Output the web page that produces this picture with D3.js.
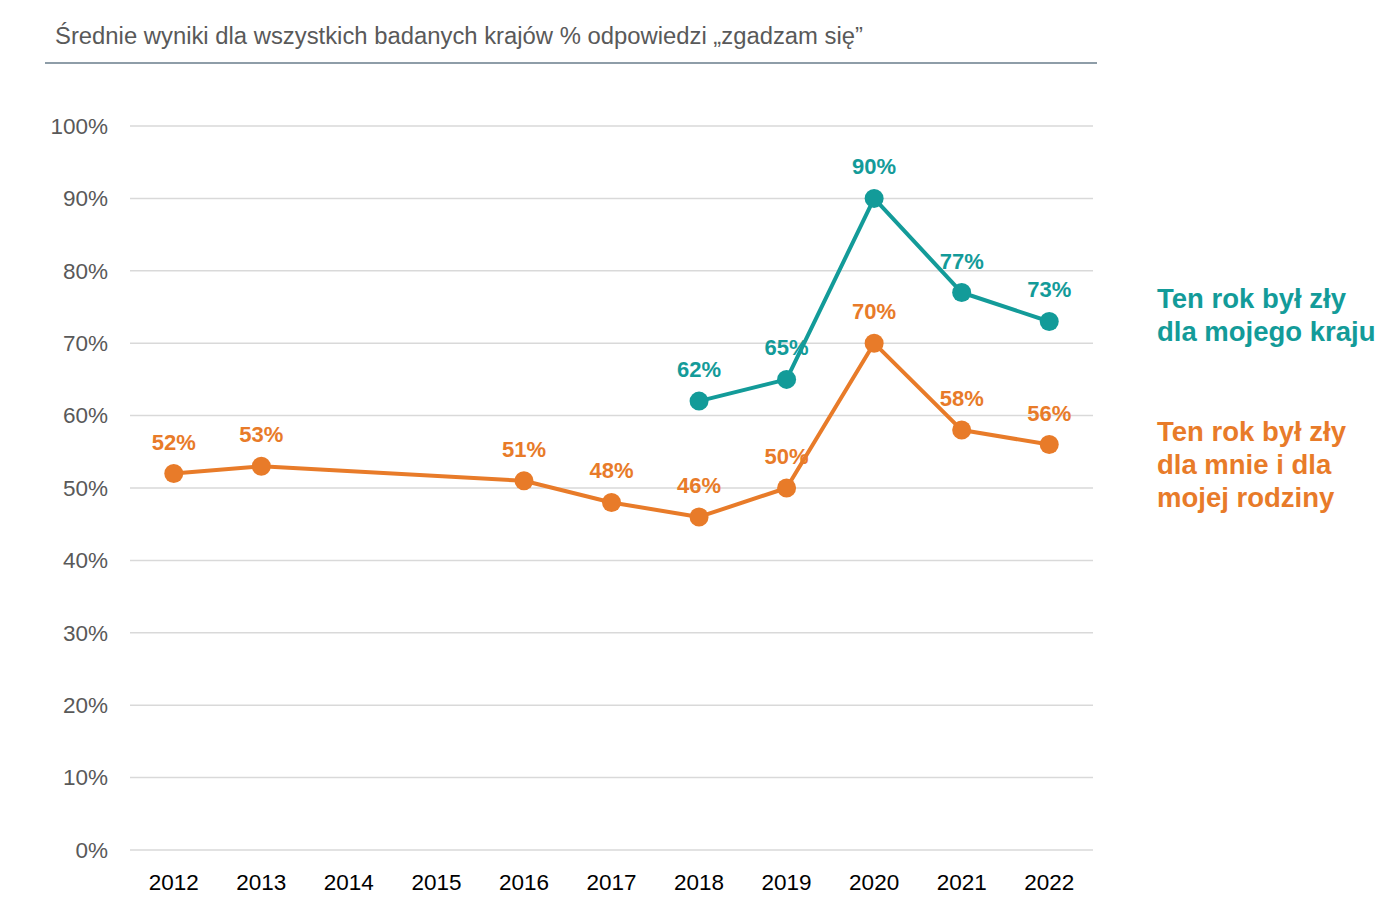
<!DOCTYPE html>
<html>
<head>
<meta charset="utf-8">
<script src="https://cdn.jsdelivr.net/npm/d3@7"></script>
<style>
  body { margin: 0; background: #fff; }
  svg { display: block; font-family: "Liberation Sans", Arial, sans-serif; }
</style>
</head>
<body>
<svg id="chart" width="1399" height="913"></svg>
<script>
// data
const years = ['2012', '2013', '2014', '2015', '2016', '2017', '2018', '2019', '2020', '2021', '2022']
const countryYears = ['2018', '2019', '2020', '2021', '2022']
const countryValues = [62, 65, 90, 77, 73]
const familyYears = ['2012', '2013', '2016', '2017', '2018', '2019', '2020', '2021', '2022']
const familyValues = [52, 53, 51, 48, 46, 50, 70, 58, 56]
const yTicks = [0, 10, 20, 30, 40, 50, 60, 70, 80, 90, 100]
const titleText = 'Średnie wyniki dla wszystkich badanych krajów % odpowiedzi „zgadzam się”'
const countryLegend = ['Ten rok był zły', 'dla mojego kraju']
const familyLegend = ['Ten rok był zły', 'dla mnie i dla', 'mojej rodziny']

const teal = '#139b99'
const orange = '#e87b29'

const svg = d3.select('#chart')

const x = d3.scaleBand().domain(years).range([130, 1093])
const y = d3.scaleLinear().domain([0, 100]).range([850, 126])
const cx = d => x(d) + x.bandwidth() / 2

// title + rule
svg.append('text')
  .attr('x', 55).attr('y', 44)
  .attr('font-family', '"Liberation Sans Narrow", "Arial Narrow", sans-serif')
  .attr('font-size', 23)
  .attr('textLength', 808).attr('lengthAdjust', 'spacingAndGlyphs')
  .attr('fill', '#595959')
  .text(titleText)
svg.append('line')
  .attr('x1', 45).attr('x2', 1097).attr('y1', 63).attr('y2', 63)
  .attr('stroke', '#1f3d52').attr('stroke-width', 1.2)

// grid
svg.append('g').selectAll('line').data(yTicks).join('line')
  .attr('x1', 130).attr('x2', 1093)
  .attr('y1', d => y(d)).attr('y2', d => y(d))
  .attr('stroke', '#d9d9d9').attr('stroke-width', 1.5)

// y axis labels
const yAxis = svg.append('g').attr('transform', 'translate(118,0)')
  .call(d3.axisLeft(y).tickValues(yTicks).tickFormat(d => d + '%').tickSize(0).tickPadding(10))
yAxis.select('.domain').remove()
yAxis.selectAll('text')
  .attr('font-family', '"Liberation Sans", Arial, sans-serif')
  .attr('font-size', 22.5).attr('fill', '#595959')

// x axis labels
const xAxis = svg.append('g').attr('transform', 'translate(0,866)')
  .call(d3.axisBottom(x).tickSize(0).tickPadding(8))
xAxis.select('.domain').remove()
xAxis.selectAll('text')
  .attr('font-family', '"Liberation Sans", Arial, sans-serif')
  .attr('font-size', 22.5).attr('fill', '#000')

function drawSeries(cats, vals, color) {
  const pts = cats.map((c, i) => ({ c, v: vals[i] }))
  const line = d3.line().x(d => cx(d.c)).y(d => y(d.v))
  svg.append('path').datum(pts)
    .attr('d', line)
    .attr('fill', 'none').attr('stroke', color)
    .attr('stroke-width', 4).attr('stroke-linejoin', 'round')
  svg.append('g').selectAll('circle').data(pts).join('circle')
    .attr('cx', d => cx(d.c)).attr('cy', d => y(d.v)).attr('r', 9.5)
    .attr('fill', color)
  svg.append('g').selectAll('text').data(pts).join('text')
    .attr('x', d => cx(d.c)).attr('y', d => y(d.v) - 24)
    .attr('text-anchor', 'middle')
    .attr('font-size', 22).attr('font-weight', 'bold')
    .attr('fill', color)
    .text(d => d.v + '%')
}

drawSeries(familyYears, familyValues, orange)
drawSeries(countryYears, countryValues, teal)

// legend labels
function legend(lines, top, color) {
  svg.append('g').selectAll('text').data(lines).join('text')
    .attr('x', 1157).attr('y', (d, i) => top + i * 33)
    .attr('font-size', 27.5).attr('font-weight', 'bold')
    .attr('fill', color)
    .text(d => d)
}
legend(countryLegend, 308, teal)
legend(familyLegend, 441, orange)
</script>
</body>
</html>
